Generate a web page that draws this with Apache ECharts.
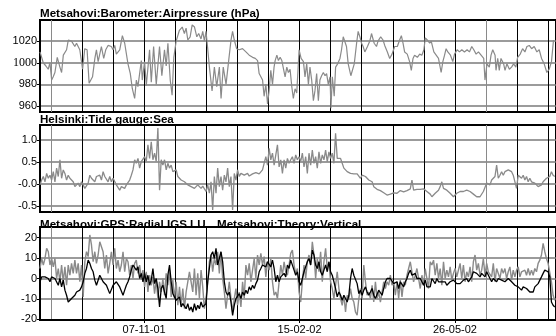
<!DOCTYPE html>
<html><head><meta charset="utf-8">
<script src="https://cdn.jsdelivr.net/npm/echarts@6/dist/echarts.min.js"></script>
<style>html,body{margin:0;padding:0;background:#fff}#c{width:556px;height:336px}</style>
</head><body><div id="c"></div>
<script>
// x values are days since 2001-09-01
const baroReadings = [
[0,1010],[2.1,1000],[3.8,997],[5.3,994],[6.4,1000],[7.5,984],[8.5,987],[9.6,991],[11.1,1005],[12.8,996],
[13.9,991],[15.0,1007],[17.1,1012],[18.2,1021],[20.3,1020],[22.4,1015],[23.5,1018],[25.6,1012],[27.4,994],[28.8,1013],
[30.3,1012],[31.6,981],[33.8,987],[35.3,1004],[36.3,1012],[37.4,1001],[39.5,1015],[41.0,1004],[42.3,1012],[43.8,1016],
[45.9,1015],[47.0,1012],[48.1,1016],[49.1,1008],[51.3,1012],[53.0,1025],[54.5,1018],[56.6,999],[58.1,990],[59.4,976],
[60.9,967],[62.0,984],[63.0,978],[65.2,1002],[65.8,984],[67.3,1001],[68.4,979],[70.5,1012],[71.6,982],[73.1,1015],
[74.8,980],[76.9,1015],[78.4,988],[80.1,1012],[81.2,997],[82.3,1018],[83.8,984],[85.0,970],[86.1,1005],[87.6,1020],
[89.7,1030],[91.5,1033],[92.9,1027],[94.0,1032],[95.1,1021],[96.6,1024],[97.9,1035],[99.4,1033],[100.9,1024],[102.1,1027],
[103.6,1022],[104.7,1029],[105.8,1020],[106.8,1029],[107.9,1013],[109.0,996],[110.7,974],[112.2,996],[113.7,978],[115.4,996],
[116.5,967],[117.9,996],[119.7,980],[121.4,1002],[122.9,1021],[123.9,1029],[125.0,1021],[126.5,1013],[128.2,1012],[130.3,1013],
[132.5,1010],[134.6,1007],[136.8,1005],[138.5,1004],[140.0,1002],[141.0,990],[143.2,984],[144.2,969],[145.3,980],[146.4,962],
[147.4,974],[148.5,993],[149.6,980],[150.6,996],
[151.3,1002],[152.4,1007],[153.4,1002],[154.5,1005],[155.6,1002],[156.6,1003],[157.7,987],[158.8,996],[159.8,991],[160.9,994],
[162.0,978],[163.0,967],[164.1,976],[165.2,972],[166.7,1012],[168.0,1004],[169.5,1001],[170.5,987],[171.6,999],[172.7,980],
[173.7,996],[174.8,984],[175.9,965],[176.9,974],[178.0,990],[179.1,965],[180.1,984],[181.2,988],[182.3,991],[183.4,988],
[184.4,990],[185.5,980],[186.6,987],[187.2,958],[188.1,987],[189.3,969],[190.2,996],[191.5,999],[193.0,1004],[194.0,1012],
[195.1,1024],[196.2,1025],[197.2,1015],[198.3,999],[200.0,988],[200.9,987],[202.2,999],[203.7,1018],[204.7,1029],[205.8,1024],
[206.9,1018],[207.9,1015],[209.0,1010],[210.7,1015],[212.2,1020],[213.3,1027],[215.0,1018],[216.5,1015],[217.5,1020],[219.2,1024],
[220.7,1021],[221.8,1016],[223.5,1010],[225.0,1004],[226.5,1008],[228.2,1015],[229.9,1015],[231.4,1021],[232.5,1025],[233.6,1018],
[234.6,1010],[236.3,1008],[237.8,1001],[238.9,993],[240.0,1004],[241.0,1007],[242.8,1005],[244.3,1008],[245.7,1007],[247.0,1012],
[247.9,1023],[249.2,1021],[250.7,1018],[251.7,1020],[253.4,1010],[254.9,1007],[256.4,1004],[258.1,991],[259.2,1001],[260.3,1007],
[261.3,1013],[262.4,1010],[264.1,1007],[265.6,1001],[266.7,1008],[268.4,1012],[269.9,1010],[271.4,1012],[273.1,1010],[274.8,1012],
[276.3,1010],[277.8,1015],[279.1,1012],[280.6,1008],[282.1,1010],[283.8,1007],[285.5,1004],[286.3,984],[287.6,999],[289.1,996],
[290.2,1007],[291.3,1012],[292.8,1007],[293.4,993],[294.5,1004],[295.5,993],[296.6,1004],[298.3,999],[299.2,993],[300.4,999],
[302.0,994],[303.4,996],[304.7,999],[306.2,996],[307.3,1005],[309.0,1008],[310.5,1013],[312.0,1010],[313.3,1015],[314.8,1016],
[316.3,1013],[318.0,1015],[319.7,1010],[321.2,1012],[322.7,1004],[324.4,999],[326.1,991],[327.6,994],[329.1,1001],[330.4,1021]
];

// regularly sampled series (one reading every sampleStepDays, from day 0)
const sampleStepDays = 5 / 4.68;

const tideLevel = [
-0.02,0.09,0.17,0.05,0.24,0.13,0.20,0.09,0.28,0.05,
0.36,0.17,0.55,0.13,0.32,0.24,0.09,0.20,0.13,0.17,
0.05,-0.06,-0.10,0.02,-0.06,0.05,-0.02,-0.10,-0.14,0.02,
0.20,0.13,0.13,0.05,0.17,0.13,0.20,0.09,0.28,0.17,
0.13,0.05,0.17,0.05,0.13,0.13,-0.02,0.02,-0.14,-0.06,
-0.06,-0.10,-0.02,0.02,0.09,0.20,0.32,0.55,0.47,0.58,
0.36,0.51,0.47,0.62,0.51,0.89,0.58,0.96,0.55,0.70,
0.51,1.27,-0.14,0.55,0.43,0.55,0.32,0.47,0.36,0.43,
0.28,0.32,0.32,0.17,0.13,0.09,0.09,0.05,0.02,-0.02,
-0.02,-0.06,-0.08,-0.10,-0.06,-0.02,-0.06,-0.10,-0.05,-0.02,
-0.17,-0.02,-0.21,0.05,-0.59,0.17,-0.21,0.36,-0.06,0.17,
-0.14,0.20,0.05,0.36,-0.06,0.17,-0.59,0.24,0.09,0.32,
0.17,0.24,0.20,0.20,0.24,0.24,0.18,0.20,0.23,0.24,
0.26,0.28,0.23,0.24,0.32,0.36,0.62,0.43,0.81,0.55,
0.70,0.43,
0.39,0.89,0.39,0.55,0.24,0.55,0.36,0.58,0.47,0.55,
0.62,0.47,0.66,0.55,0.62,0.51,0.70,0.39,0.62,0.24,
0.70,0.43,0.77,0.47,0.62,0.36,0.73,0.47,0.66,0.55,
0.77,0.51,0.73,0.58,0.70,0.47,1.15,0.58,0.55,0.58,
0.47,0.36,0.32,0.28,0.32,0.24,0.28,0.23,0.20,0.23,
0.24,0.13,0.20,0.18,0.17,0.13,0.09,0.08,0.05,-0.06,
-0.10,-0.12,-0.14,-0.15,-0.17,-0.20,-0.21,-0.25,-0.27,-0.23,
-0.21,-0.20,-0.17,-0.21,-0.20,-0.15,-0.14,-0.18,-0.17,-0.15,
-0.14,-0.11,0.09,-0.14,-0.10,-0.12,-0.10,-0.12,-0.14,-0.11,
-0.14,-0.17,-0.17,-0.23,-0.29,-0.25,-0.21,-0.17,-0.14,-0.06,
0.05,-0.10,-0.10,-0.14,-0.17,-0.21,-0.25,-0.29,-0.33,-0.21,
-0.20,-0.17,-0.18,-0.17,-0.15,-0.14,-0.10,-0.17,-0.21,-0.23,
-0.25,-0.29,-0.33,-0.29,-0.25,-0.17,-0.14,0.02,0.05,-0.02,
0.09,0.05,0.17,0.43,0.13,0.20,0.28,0.20,0.28,0.24,
0.32,0.36,0.28,0.20,0.24,-0.10,0.20,0.17,0.13,0.20,
0.09,0.17,0.05,0.13,0.05,0.03,0.02,-0.02,-0.06,-0.10,
-0.02,0.05,0.09,0.13,0.17,0.17,0.28,0.20,0.17
];

const gpsRadial = [
4.9,9.8,6.6,9.8,14.8,13.1,6.6,9.8,5.7,9.8,
0,4.9,-1.6,6.6,-1.6,5.7,-3.3,6.6,1.6,7.4,
2.5,9.0,2.5,7.4,-1.6,6.6,-9.0,8.2,13.1,10.7,
21.3,16.4,8.2,13.1,7.4,11.5,18.0,18.9,13.1,4.9,
11.5,2.5,7.4,13.1,6.6,14.8,4.9,9.0,3.3,6.6,
13.1,3.3,9.8,8.2,1.6,6.6,0,7.4,9.0,2.5,
6.6,0,4.1,-4.1,3.3,-6.6,1.6,-3.3,0.8,-7.4,
-0.8,-9.8,-1.6,-6.6,0,-8.2,2.5,-3.3,4.1,-9.0,
-0.8,-9.8,-1.6,-13.1,-4.1,-13.1,-4.9,-14.8,-6.6,-6.6,
3.3,-1.6,-6.6,4.9,-8.2,2.5,-9.8,4.1,-4.1,-14.8,
-9.8,-1.6,8.2,11.5,3.3,9.8,6.6,13.1,2.5,13.1,
0,-6.6,-14.8,-8.2,-1.6,-9.8,-16.4,-9.8,-4.9,-13.1,
-6.6,-13.9,-1.6,-9.8,6.6,1.6,7.4,-1.6,4.1,9.8,
0,11.5,6.6,12.3,6.6,10.7,0.8,8.2,4.1,9.8,
-1.6,-8.2,
-6.6,-9.8,-1.6,6.6,1.6,8.2,3.3,1.6,6.6,12.3,
13.9,6.6,2.5,4.9,-6.6,-11.5,-1.6,6.6,0,8.2,
11.5,6.6,18.0,11.5,0,9.8,3.3,13.1,-1.6,8.2,
14.8,4.9,8.2,-1.6,-4.9,-9.8,-3.3,3.3,-4.9,-9.8,
-13.1,-8.2,-16.4,-8.2,-9.8,-4.9,-9.8,-11.5,-16.4,-18.0,
-9.8,-4.9,-9.8,6.6,-1.6,-8.2,-6.6,-9.8,-3.3,-11.5,
-1.6,-9.8,-6.6,-11.5,-11.5,-1.6,-4.9,-1.6,-3.3,1.6,
-3.3,-1.6,-8.2,-1.6,-9.8,-0.8,-9.0,-1.6,-3.3,1.6,
4.9,8.2,3.3,-1.6,1.6,4.9,0,-4.9,1.6,-3.3,
4.9,0,-4.9,8.2,6.6,9.0,1.6,7.4,0,4.9,
-3.3,8.2,0,4.1,0.8,5.7,-0.8,2.5,4.9,0.8,
4.1,7.4,0,6.6,-1.6,3.3,0.8,5.7,-1.6,8.2,
11.5,4.1,7.4,1.6,4.1,9.8,1.6,7.4,3.3,4.1,
0.8,7.4,-1.6,4.9,5.7,0,4.9,2.5,4.9,0,
3.3,5.7,-0.8,4.1,0.8,4.1,5.7,0.8,3.3,2.5,
4.1,1.6,4.9,1.6,4.1,1.6,4.9,3.3,7.4,9.0,
11.5,17.2,13.1,9.8,7.4,8.2,-1.6,-8.2,-10.7
];

const theoryVertical = [
-1.6,0.8,0,0.8,0,0,-1.6,0.8,1.6,0,
0.8,-3.3,0,-4.1,-0.8,-5.7,-8.2,-11.5,-12.3,-9.8,
-9.0,-8.2,-6.6,-6.6,-5.7,-4.1,-1.6,2.5,4.9,9.0,
7.4,4.9,3.3,-0.8,-3.3,-2.5,1.6,0,-1.6,-0.8,
-3.3,-4.1,-7.4,-6.6,-3.3,-4.1,-1.6,-2.5,-4.1,-4.9,
-8.2,-5.7,-3.3,-1.6,0.8,4.1,6.6,7.4,4.1,5.7,
0,2.5,-1.6,2.5,-1.6,1.6,-3.3,-0.8,4.9,-2.5,
0,-4.9,-13.9,-4.9,-3.3,-6.6,-9.8,1.6,6.6,-1.6,
-7.4,-8.2,-10.7,-11.5,-9.0,-13.9,-12.3,-13.1,-14.8,-12.3,
-15.6,-13.9,-16.4,-12.3,-15.6,-13.1,-14.8,-11.5,-13.9,-13.1,
-12.3,-1.6,4.9,11.5,13.1,9.8,14.8,6.6,9.8,13.1,
8.2,-1.6,-6.6,-8.2,-6.6,-11.5,-18.0,-13.1,-9.8,-9.0,
-7.4,-9.8,-6.6,-8.2,-5.7,-7.4,-4.1,-5.7,-3.3,-4.9,
-2.5,-0.8,3.3,4.9,6.6,7.4,5.7,8.2,7.4,5.7,
9.0,4.9,
-1.6,1.6,-1.6,0.8,0,2.5,0.8,6.6,4.9,9.0,
8.2,4.1,1.6,3.3,-1.6,-3.3,0,3.3,4.1,8.2,
9.8,6.6,13.9,11.5,6.6,4.9,8.2,3.3,1.6,4.1,
6.6,3.3,8.2,3.3,1.6,-1.6,-4.9,-9.0,-6.6,-8.2,
-10.7,-8.2,-9.8,-11.5,-8.2,0,4.9,1.6,0.8,-2.5,
-7.4,-5.7,-8.2,-5.7,-4.1,-6.6,-8.2,-6.6,-4.9,-8.2,
-9.8,-9.0,-5.7,-6.6,-8.2,-4.9,-1.6,0,0.8,0,
-0.8,-2.5,-3.3,-1.6,-4.9,-1.6,-0.8,-4.1,-1.6,0,
2.5,4.1,1.6,0.8,2.5,0,-0.8,0,-1.6,-3.3,
-0.8,-4.1,-4.9,-4.1,0,-0.8,-2.5,0,-1.6,-0.8,
-1.6,-2.5,-1.6,-3.3,-2.5,-1.6,-2.5,-0.8,-1.6,-2.5,
-1.6,-2.5,-1.6,-0.8,-1.6,0,-1.6,-0.8,0.8,3.3,
4.1,2.5,1.6,0.8,2.5,1.6,0.8,3.3,2.5,0,
-1.6,0,-0.8,-1.6,0,0.8,-0.8,0,-1.6,-0.8,
0,-0.8,-1.6,-2.5,-3.3,-4.1,-4.1,-4.9,-5.7,-4.1,
-4.9,-4.9,-5.7,-6.6,-7.4,-6.6,-4.1,-3.3,-2.5,-1.6,
0.8,2.5,4.1,4.9,3.3,0.8,-11.5,-13.1,-13.9
];

// ticks
const gridDays = [7,27,47,67,87,107,127,147,167,187,207,227,247,267,287,307,327];
const dateTickDays = [67,167,267];
const dateTickLabels = ['07-11-01','15-02-02','26-05-02'];
const baroTicks = [960,980,1000,1020];
const tideTicks = [-0.5,0,0.5,1.0];
const gpsTicks = [-20,-10,0,10,20];
const panelTitles = ['Metsahovi:Barometer:Airpressure (hPa)','Helsinki:Tide gauge:Sea'];
const seriesNames = ['Metsahovi:GPS:Radial IGS LU','Metsahovi:Theory:Vertical'];

const X_MIN = 0, X_MAX = 332;
const FONT = '"Liberation Sans", Arial, sans-serif';
const TITLE_FONT = 'bold 11.6px ' + FONT;
const vLineColors = ['#8a8a8a','#000','#000','#000','#000','#000','#000','#000','#000','#000','#000','#000','#000','#000','#8a8a8a','#000','#000'];

function regular(arr){ return arr.map((v,i)=>[i*sampleStepDays, v]); }

function gridXAxis(gi){
  return {gridIndex:gi, type:'value', min:X_MIN, max:X_MAX, position:'bottom',
    axisLine:{show:false}, axisTick:{show:false, customValues:gridDays},
    axisLabel:{show:false}, splitLine:{show:true, lineStyle:{color:vLineColors, width:1}}};
}
function yAx(gi, min, max, ticks, fmt){
  return {gridIndex:gi, type:'value', min:min, max:max,
    axisLine:{show:true, lineStyle:{color:'#000', width:2}},
    axisTick:{show:true, length:3, customValues:ticks, lineStyle:{color:'#000', width:1}},
    axisLabel:{customValues:ticks, color:'#000', fontSize:11, fontFamily:FONT, margin:3, formatter:fmt,
      rich:{s:{fontFamily:'"Liberation Serif", serif', fontSize:12, color:'#000'}}},
    splitLine:{show:true, lineStyle:{color:'#7a7a7a', width:1.6}}};
}

const grids = [
  {left:40, right:-2, top:20, height:92},
  {left:40, right:-2, top:125, height:87},
  {left:40, right:-2, top:227, height:93}
].map(g=>Object.assign(g,{show:true, borderColor:'#000', borderWidth:2, backgroundColor:'transparent'}));

const option = {
  animation:false,
  backgroundColor:'#fff',
  grid: grids,
  xAxis:[gridXAxis(0), gridXAxis(1), gridXAxis(2),
    {gridIndex:2, type:'value', min:X_MIN, max:X_MAX, position:'bottom',
     axisLine:{show:true, lineStyle:{color:'#000', width:2}},
     axisTick:{show:true, length:3, customValues:dateTickDays, lineStyle:{color:'#000'}},
     axisLabel:{customValues:dateTickDays, color:'#000', fontSize:11, fontFamily:FONT, margin:4,
       formatter:v=>dateTickLabels[dateTickDays.indexOf(Math.round(v))] || ''},
     splitLine:{show:false}}],
  yAxis:[
    yAx(0, 954.5, 1039.5, baroTicks, v => v===1000 ? '{s|1000}' : String(v)),
    yAx(1, -0.636, 1.34, tideTicks, v => v===0 ? '-0.0' : v.toFixed(1)),
    yAx(2, -20.3, 25.2, gpsTicks, v => String(v))
  ],
  graphic:[
    {type:'text', x:40, y:19.5, style:{text:panelTitles[0], font:TITLE_FONT, fill:'#000', verticalAlign:'bottom'}},
    {type:'text', x:40, y:126, style:{text:panelTitles[1], font:TITLE_FONT, fill:'#000', verticalAlign:'bottom'}},
    {type:'text', x:40, y:230.5, style:{text:seriesNames[0], font:TITLE_FONT, fill:'#000', verticalAlign:'bottom'}},
    {type:'text', x:217, y:230.5, style:{text:seriesNames[1], font:TITLE_FONT, fill:'#000', verticalAlign:'bottom'}}
  ],
  series:[
    {type:'line', xAxisIndex:0, yAxisIndex:0, data:baroReadings, showSymbol:false, symbol:'none',
     lineStyle:{color:'#8a8a8a', width:1.2}},
    {type:'line', xAxisIndex:1, yAxisIndex:1, data:regular(tideLevel), showSymbol:false, symbol:'none',
     lineStyle:{color:'#8a8a8a', width:1.3}},
    {type:'line', name:seriesNames[0], xAxisIndex:2, yAxisIndex:2, data:regular(gpsRadial), showSymbol:false, symbol:'none',
     lineStyle:{color:'#8a8a8a', width:1.4}},
    {type:'line', name:seriesNames[1], xAxisIndex:2, yAxisIndex:2, data:regular(theoryVertical), showSymbol:false, symbol:'none',
     lineStyle:{color:'#000', width:1.3}}
  ]
};
const chart = echarts.init(document.getElementById('c'), null, {renderer:'canvas'});
chart.setOption(option);
</script></body></html>
